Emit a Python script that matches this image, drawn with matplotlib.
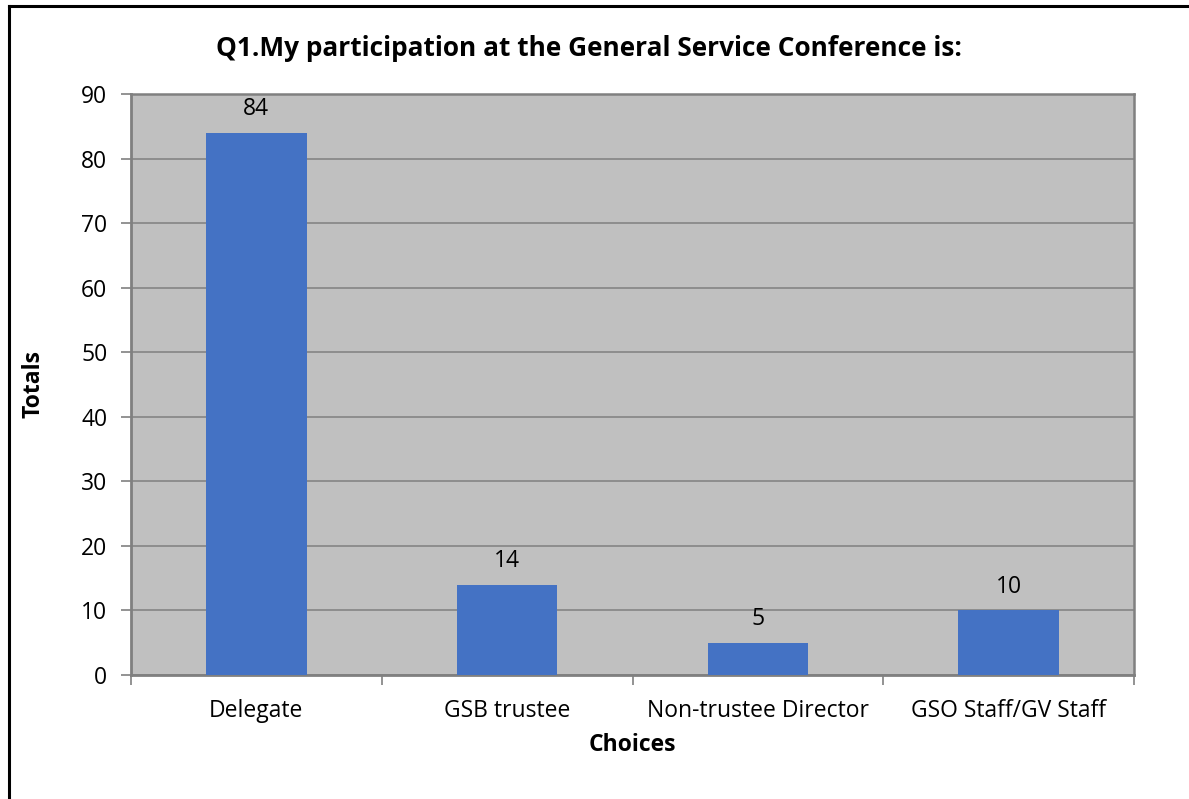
import matplotlib
matplotlib.use("Agg")
import matplotlib.pyplot as plt
from matplotlib.lines import Line2D
import numpy as np

categories = ["Delegate", "GSB trustee", "Non-trustee Director", "GSO Staff/GV Staff"]
totals = [84, 14, 5, 10]
yticks = [0, 10, 20, 30, 40, 50, 60, 70, 80, 90]
title = "Q1.My participation at the General Service Conference is:"

plt.rcParams['font.family'] = ['Open Sans', 'DejaVu Sans']

W, H = 1189, 799
fig = plt.figure(figsize=(W / 100, H / 100), dpi=100)
fig.patch.set_facecolor("white")

left, right, top, bottom = 131, 1134, 94, 675
ax = fig.add_axes([left / W, 1 - bottom / H, (right - left) / W, (bottom - top) / H])
ax.set_facecolor("#C0C0C0")

FS = 16.5
x = np.arange(len(categories))
ax.bar(x, totals, width=0.4, color="#4472C4", zorder=3)
for xi, v in zip(x, totals):
    ax.text(xi, v + 3.6, str(v), ha="center", va="center", fontsize=FS, color="black", zorder=4)

ax.set_xlim(-0.5, len(categories) - 0.5)
ax.set_ylim(0, 90)
ax.set_yticks(yticks)
ax.set_yticklabels([str(t) for t in yticks], fontsize=FS)
ax.yaxis.grid(True, color="#808080", linewidth=1.1, zorder=1)
ax.set_axisbelow(True)

ax.set_xticks(x)
ax.set_xticklabels(categories, fontsize=FS)
ax.tick_params(axis="x", length=0, pad=17)
ax.set_xticks(np.arange(-0.5, len(categories)), minor=True)
ax.tick_params(axis="x", which="minor", length=7, width=1.2, color="#808080")
ax.tick_params(axis="y", length=7, width=1.2, color="#808080", pad=10)

for s in ["left", "bottom"]:
    ax.spines[s].set_color("#808080")
    ax.spines[s].set_linewidth(2)
for s in ["top", "right"]:
    ax.spines[s].set_color("#808080")
    ax.spines[s].set_linewidth(1.8)

ax.set_ylabel("Totals", fontsize=FS, fontweight="bold")
ax.yaxis.set_label_coords((33 - left) / (right - left), 0.5)
ax.set_xlabel("Choices", fontsize=FS, fontweight="bold")
ax.xaxis.set_label_coords(0.5, -(745 - bottom) / (bottom - top))
ax.xaxis.label.set_va("center")
ax.yaxis.label.set_va("center")

fig.text(0.5 * (216 + 962) / W, 1 - 48 / H, title, ha="center", va="center",
         fontsize=18.9, fontweight="bold")

# partial border (left and top)
fig.add_artist(Line2D([9 / W, 9 / W], [0, 1 - 6 / H], transform=fig.transFigure, color="black", linewidth=2.2))
fig.add_artist(Line2D([9 / W, 1], [1 - 6 / H, 1 - 6 / H], transform=fig.transFigure, color="black", linewidth=2.2))

fig.savefig("out.png", dpi=100, facecolor="white")
